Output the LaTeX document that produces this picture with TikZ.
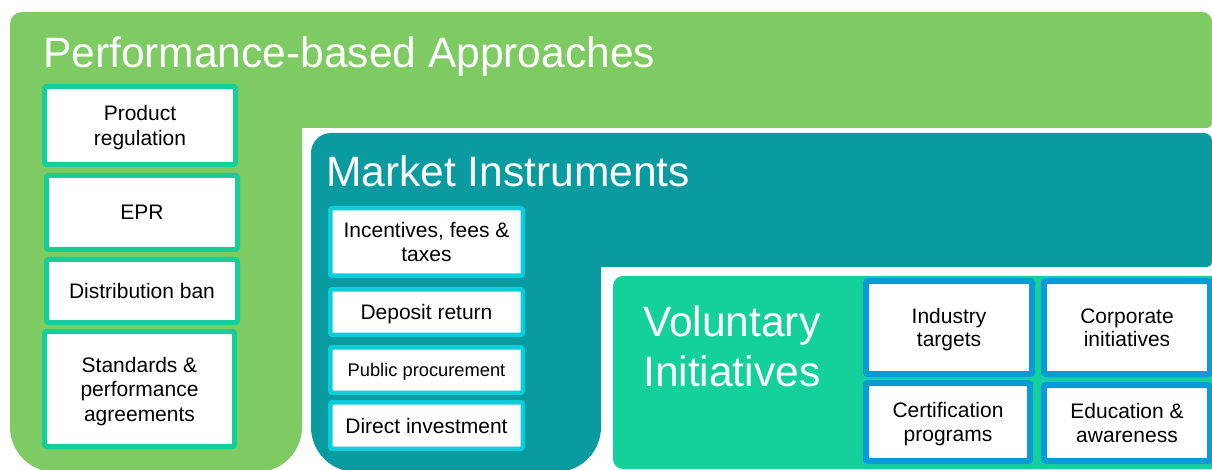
\documentclass[tikz,border=0pt]{standalone}
\usepackage{fontspec}
\setmainfont{Liberation Sans}
\definecolor{pgreen}{RGB}{125,203,98}
\definecolor{mteal}{RGB}{9,155,160}
\definecolor{vmint}{RGB}{20,208,154}
\definecolor{pborder}{RGB}{22,207,152}
\definecolor{mborder}{RGB}{12,206,218}
\definecolor{vborder}{RGB}{8,155,216}
\begin{document}
\begin{tikzpicture}[x=1pt,y=-1pt,
  title/.style={text=white,inner sep=0pt,anchor=base west,font=\fontsize{42.5}{50}\selectfont},
  itembox/.style={fill=white,rounded corners=2pt,inner sep=0pt,align=center,text=black,text depth=0pt,font=\fontsize{21}{24.5}\selectfont},
  pbox/.style={itembox,draw=pborder,line width=5pt},
  mbox/.style={itembox,draw=mborder,line width=4.5pt},
  vbox/.style={itembox,draw=vborder,line width=6pt,font=\fontsize{21}{23.5}\selectfont},
]
\useasboundingbox (0,0) rectangle (1212,470);
% Performance-based L shape
\fill[pgreen] (10,24) arc[start angle=180,end angle=270,radius=12]
  -- (1202,12) arc[start angle=270,end angle=360,radius=10]
  -- (1212,123) arc[start angle=0,end angle=90,radius=5]
  -- (302,128) -- (302,427) arc[start angle=0,end angle=90,radius=45]
  -- (55,472) arc[start angle=90,end angle=180,radius=45] -- cycle;
% Market instruments L shape
\fill[mteal] (311,153) arc[start angle=180,end angle=270,radius=20]
  -- (1204,133) arc[start angle=270,end angle=360,radius=8]
  -- (1212,262) arc[start angle=0,end angle=90,radius=5]
  -- (601,267) -- (601,427) arc[start angle=0,end angle=90,radius=45]
  -- (356,472) arc[start angle=90,end angle=180,radius=45] -- cycle;
% Voluntary
\fill[vmint,rounded corners=10pt] (613,276) rectangle (1230,469);

\node[title] (tperf) at (43,68) {Performance-based Approaches};
\node[title] (tmark) at (326,187) {Market Instruments};
\node[title] (tvol1) at (643,336) {Voluntary};
\node[title] (tvol2) at (643,386) {Initiatives};

% performance boxes
\node[pbox,minimum width=191pt,minimum height=78pt] (p1) at (140,125.5) {Product\\regulation};
\node[pbox,minimum width=191pt,minimum height=74pt] (p2) at (142,212.5) {EPR};
\node[pbox,minimum width=191pt,minimum height=63pt] (p3) at (142,291) {Distribution ban};
\node[pbox,minimum width=190pt,minimum height=115pt] (p4) at (139.5,389) {Standards \&\\performance\\agreements};

% market boxes
\node[mbox,minimum width=192.5pt,minimum height=67.5pt] (m1) at (426.5,242) {Incentives, fees \&\\taxes};
\node[mbox,minimum width=192.5pt,minimum height=45.5pt] (m2) at (426.5,312) {Deposit return};
\node[mbox,minimum width=192.5pt,minimum height=45.5pt,font=\fontsize{18.3}{22}\selectfont] (m3) at (426.5,370) {Public procurement};
\node[mbox,minimum width=192.5pt,minimum height=46.5pt] (m4) at (426.5,425.5) {Direct investment};

% voluntary boxes
\node[vbox,minimum width=166pt,minimum height=93pt] (v1) at (949,327.5) {Industry\\targets};
\node[vbox,minimum width=166pt,minimum height=93pt] (v2) at (1127,327.5) {Corporate\\initiatives};
\node[vbox,minimum width=164pt,minimum height=78pt] (v3) at (948,422) {Certification\\programs};
\node[vbox,minimum width=166pt,minimum height=76pt] (v4) at (1127,423) {Education \&\\awareness};
\end{tikzpicture}
\end{document}
